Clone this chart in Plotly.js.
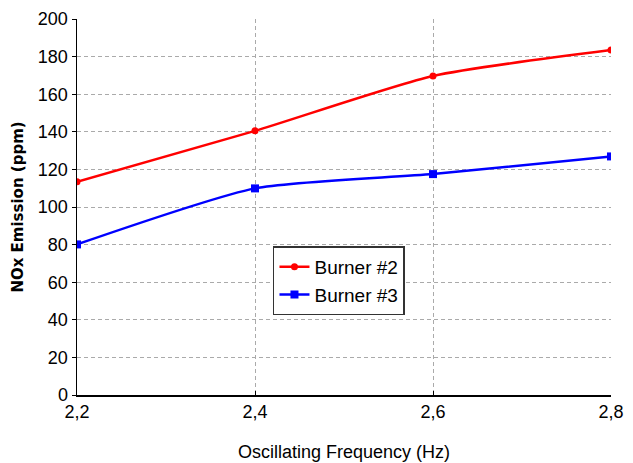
<!DOCTYPE html>
<html><head><meta charset="utf-8">
<script src="https://cdn.plot.ly/plotly-3.0.1.min.js"></script>
<style>body{margin:0;background:#fff}#c{width:633px;height:463px}</style>
</head><body><div id="c"></div>
<script>
const freq = [2.2, 2.4, 2.6, 2.8];
const freqLabels = ['2,2', '2,4', '2,6', '2,8'];
const burner2 = [113.4, 140.5, 169.7, 183.5];
const burner3 = [80.1, 109.9, 117.5, 126.9];
const yTicks = [0, 20, 40, 60, 80, 100, 120, 140, 160, 180, 200];

const font = {family: '"Liberation Sans Narrow", "Liberation Sans", Arial, sans-serif', color: '#000'};
const traces = [
  {x: freq, y: burner2, name: 'Burner #2', mode: 'lines+markers',
   line: {color: '#ff0000', width: 2.5, shape: 'spline', smoothing: 0.6},
   marker: {symbol: 'circle', size: 7, color: '#ff0000'}},
  {x: freq, y: burner3, name: 'Burner #3', mode: 'lines+markers',
   line: {color: '#0000ff', width: 2.5, shape: 'spline', smoothing: 0.6},
   marker: {symbol: 'square', size: 8, color: '#0000ff'}}
];
const layout = {
  width: 633, height: 463,
  margin: {l: 77, r: 22, t: 19, b: 68},
  paper_bgcolor: '#fff', plot_bgcolor: '#fff',
  font: Object.assign({size: 17}, font),
  showlegend: true,
  legend: {x: 0.367, y: 0.395, xanchor: 'left', yanchor: 'top',
    bordercolor: '#333', borderwidth: 1.5, bgcolor: '#fff',
    font: Object.assign({size: 19}, font)},
  xaxis: {range: [2.2, 2.8], tickvals: freq, ticktext: freqLabels,
    showline: true, linecolor: '#000', linewidth: 1.5,
    showgrid: true, gridcolor: '#aaa', griddash: '4px,3px', gridwidth: 1,
    ticks: 'inside', ticklen: 4, tickcolor: '#000', zeroline: false,
    tickfont: Object.assign({size: 18}, font),
    title: {text: 'Oscillating Frequency (Hz)', font: Object.assign({size: 18}, font), standoff: 24}},
  yaxis: {range: [0, 200], tickvals: yTicks,
    showline: true, linecolor: '#000', linewidth: 1.5,
    showgrid: true, gridcolor: '#aaa', griddash: '4px,3px', gridwidth: 1,
    ticks: 'outside', ticklen: 4, tickcolor: '#000', zeroline: false,
    tickfont: Object.assign({size: 18}, font),
    title: {text: '<b>NOx Emission (ppm)</b>', font: {family: '"DejaVu Sans", sans-serif', size: 15, color: '#000'}, standoff: 10}}
};
Plotly.newPlot('c', traces, layout, {displayModeBar: false, staticPlot: true});
</script></body></html>
